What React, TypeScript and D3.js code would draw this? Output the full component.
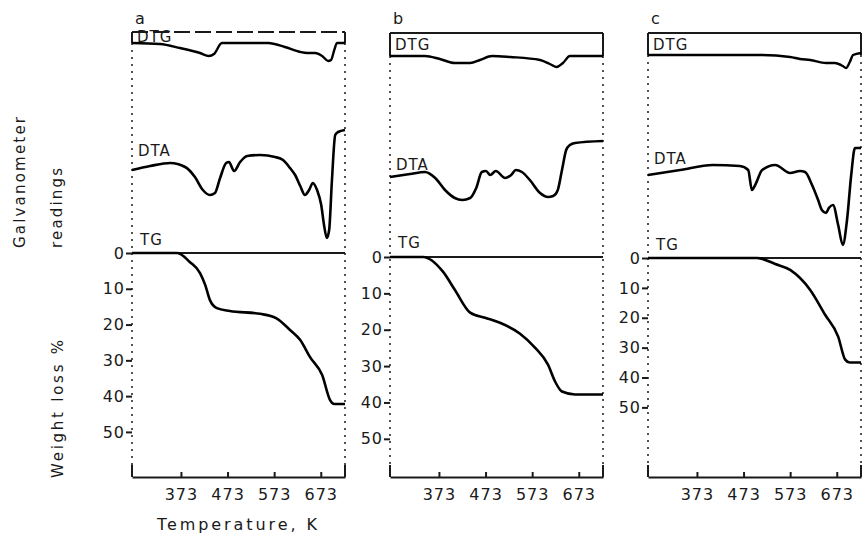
import * as d3 from 'd3';
import { useEffect, useRef } from 'react';

type Pt = [number, number];

const panelNames = ['a', 'b', 'c'];
const tempTicks = [373, 473, 573, 673];
const lossTicks = [0, 10, 20, 30, 40, 50];

// DTG (a.u., dips negative), DTA (a.u.), TG (weight loss %) vs temperature K
const dtgA: Pt[] = [[268, 0], [328, -1], [371, -5], [414, -10], [433, -13], [444, -11], [461, 0], [500, 0], [560, 0], [596, -4], [629, -9], [644, -10], [661, -10], [676, -13], [689, -18], [695, -17], [702, -7], [708, 0], [725, 0]];
const dtaA: Pt[] = [[268, 0], [307, 4], [350, 7], [382, 3], [403, -7], [420, -20], [435, -25], [446, -23], [457, -8], [470, 7], [476, 8], [487, -1], [500, 8], [515, 14], [543, 15], [575, 13], [592, 10], [607, 2], [618, -5], [629, -16], [639, -25], [648, -20], [656, -13], [665, -20], [674, -35], [680, -55], [686, -68], [691, -60], [697, -10], [704, 35], [710, 38], [725, 40]];
const tgA: Pt[] = [[268, 0], [365, 0], [392, 2.5], [414, 5.6], [425, 8.9], [435, 13.1], [450, 15.4], [478, 16.2], [543, 17.0], [577, 18.2], [607, 21.5], [629, 24.3], [650, 29.1], [676, 34.1], [693, 41.1], [702, 42.2], [725, 42.2]];

const dtgB: Pt[] = [[268, 0], [343, 0], [375, -3], [407, -7], [440, -7], [461, -4], [487, 0], [526, -1], [590, -4], [611, -8], [626, -11], [639, -7], [654, 0], [725, 0]];
const dtaB: Pt[] = [[268, 0], [311, 3], [343, 5], [365, -1], [386, -13], [407, -21], [423, -23], [440, -21], [453, -11], [465, 5], [474, 6], [483, 2], [495, 6], [515, -1], [528, 2], [538, 7], [551, 5], [568, -3], [590, -16], [607, -20], [618, -19], [628, -13], [637, 7], [646, 27], [654, 32], [665, 34], [725, 36]];
const tgB: Pt[] = [[268, 0], [339, 0], [382, 4.1], [407, 9.0], [440, 15.3], [472, 16.7], [504, 18.1], [547, 21.1], [579, 24.9], [607, 29.6], [622, 34.2], [637, 37.0], [665, 37.8], [725, 37.8]];

const dtgC: Pt[] = [[268, 0], [380, 0], [508, 0], [573, -2], [594, -4], [616, -5], [650, -8], [669, -8], [686, -11], [693, -13], [701, -7], [708, 0], [725, 2]];
const dtaC: Pt[] = [[268, 0], [337, 5], [407, 10], [465, 9], [483, 5], [491, -15], [498, -10], [513, 5], [541, 10], [573, 2], [594, 4], [605, 3], [620, -10], [633, -25], [641, -35], [650, -38], [656, -33], [665, -30], [676, -50], [686, -70], [695, -45], [704, 0], [712, 27], [725, 27]];
const tgC: Pt[] = [[268, 0], [502, 0], [541, 2], [573, 4], [616, 10.7], [648, 19], [676, 26.3], [691, 34], [701, 35], [725, 35]];

const dtgSeries = [dtgA, dtgB, dtgC];
const dtaSeries = [dtaA, dtaB, dtaC];
const tgSeries = [tgA, tgB, tgC];

const W = 863;
const H = 534;
const FONT = 'DejaVu Sans, sans-serif';
const INK = '#1a1a1a';
const bottom = 477;
const panelW = 213;
const tempDomain: Pt = [268, 725];

const layout = [
  { left: 132, top: 32, dtgBase: 43, dtaBase: 170, zero: 253, lossMax: 62.6, topDash: '16 5', dtaLab: 156, tgLab: 245, dtgLab: 42 },
  { left: 390, top: 33, dtgBase: 56, dtaBase: 177, zero: 257, lossMax: 60.5, topDash: 'none', dtaLab: 170, tgLab: 248, dtgLab: 50 },
  { left: 648, top: 33, dtgBase: 55, dtaBase: 175, zero: 258, lossMax: 73.3, topDash: 'none', dtaLab: 164, tgLab: 250, dtgLab: 50 },
];

function AxisG({ axis, transform, dropDomain }: { axis: any; transform: string; dropDomain?: boolean }) {
  const ref = useRef<SVGGElement>(null);
  useEffect(() => {
    const g = d3.select(ref.current!);
    g.call(axis);
    g.attr('font-family', FONT).attr('font-size', 16);
    g.selectAll('text').attr('fill', INK).style('letter-spacing', '1px');
    g.selectAll('line').attr('stroke', INK).attr('stroke-width', 2);
    if (dropDomain) g.select('.domain').remove();
    else g.select('.domain').attr('stroke', INK).attr('stroke-width', 2);
  });
  return <g ref={ref} transform={transform} />;
}

function Panel({ i }: { i: number }) {
  const L = layout[i];
  const x = d3.scaleLinear().domain(tempDomain).range([L.left, L.left + panelW]);
  const yLoss = d3.scaleLinear().domain([0, L.lossMax]).range([L.zero, bottom]);
  const yDtg = d3.scaleLinear().domain([0, -10]).range([L.dtgBase, L.dtgBase + 10]);
  const yDta = d3.scaleLinear().domain([0, -10]).range([L.dtaBase, L.dtaBase + 10]);
  const mk = (ys: d3.ScaleLinear<number, number>) =>
    d3.line<Pt>().x(d => x(d[0])).y(d => ys(d[1])).curve(d3.curveMonotoneX);
  const right = L.left + panelW;
  const xAxis = d3.axisBottom(x).tickValues(tempTicks).tickFormat(d3.format('d')).tickSize(-5).tickSizeOuter(0).tickPadding(12);
  const yAxis = d3.axisLeft(yLoss).tickValues(lossTicks).tickFormat(d3.format('d')).tickSize(6).tickPadding(1);
  const txt = { fontFamily: FONT, fill: INK, letterSpacing: '1px' } as const;
  return (
    <g>
      <text x={L.left + 3} y={24} fontSize={16} style={txt}>{panelNames[i]}</text>
      {/* frame */}
      <line x1={L.left} x2={right} y1={L.top} y2={L.top} stroke={INK} strokeWidth={2} strokeDasharray={L.topDash} />
      <line x1={L.left} x2={L.left} y1={L.top} y2={L.dtgBase} stroke={INK} strokeWidth={2} />
      <line x1={right} x2={right} y1={L.top} y2={L.dtgBase} stroke={INK} strokeWidth={2} />
      <line x1={L.left} x2={L.left} y1={L.dtgBase} y2={bottom} stroke={INK} strokeWidth={1.5} strokeDasharray="2 5" />
      <line x1={right} x2={right} y1={L.dtgBase} y2={bottom} stroke={INK} strokeWidth={1.5} strokeDasharray="2 5" />
      <line x1={L.left} x2={L.left} y1={bottom - 12} y2={bottom} stroke={INK} strokeWidth={2} />
      <line x1={right} x2={right} y1={bottom - 12} y2={bottom} stroke={INK} strokeWidth={2} />
      <line x1={L.left} x2={right} y1={yLoss(0)} y2={yLoss(0)} stroke={INK} strokeWidth={2} />
      {/* labels */}
      <text x={L.left + 5} y={L.dtgLab} fontSize={15} style={txt}>DTG</text>
      <text x={L.left + 6} y={L.dtaLab} fontSize={15} style={txt}>DTA</text>
      <text x={L.left + 8} y={L.tgLab} fontSize={15} style={txt}>TG</text>
      {/* curves */}
      <path d={mk(yDtg)(dtgSeries[i])!} fill="none" stroke="#000" strokeWidth={2.4} strokeLinejoin="round" />
      <path d={mk(yDta)(dtaSeries[i])!} fill="none" stroke="#000" strokeWidth={2.6} strokeLinejoin="round" />
      <path d={mk(yLoss)(tgSeries[i])!} fill="none" stroke="#000" strokeWidth={2.6} strokeLinejoin="round" />
      <AxisG axis={xAxis} transform={`translate(0,${bottom})`} />
      <AxisG axis={yAxis} transform={`translate(${L.left},0)`} dropDomain />
    </g>
  );
}

export default function App() {
  const txt = { fontFamily: FONT, fill: INK } as const;
  return (
    <svg width={W} height={H} style={{ position: 'absolute', left: 0, top: 0, background: '#fff' }}>
      <rect width={W} height={H} fill="#fff" />
      {[0, 1, 2].map(i => <Panel key={i} i={i} />)}
      <text transform="translate(25,248) rotate(-90)" fontSize={15} style={txt} textLength={131} lengthAdjust="spacing">Galvanometer</text>
      <text transform="translate(62,248) rotate(-90)" fontSize={15} style={txt} textLength={80} lengthAdjust="spacing">readings</text>
      <text transform="translate(63,478) rotate(-90)" fontSize={15} style={txt} textLength={138} lengthAdjust="spacing">Weight loss %</text>
      <text x={157} y={530} fontSize={16} style={txt} textLength={160} lengthAdjust="spacing">Temperature, K</text>
    </svg>
  );
}
